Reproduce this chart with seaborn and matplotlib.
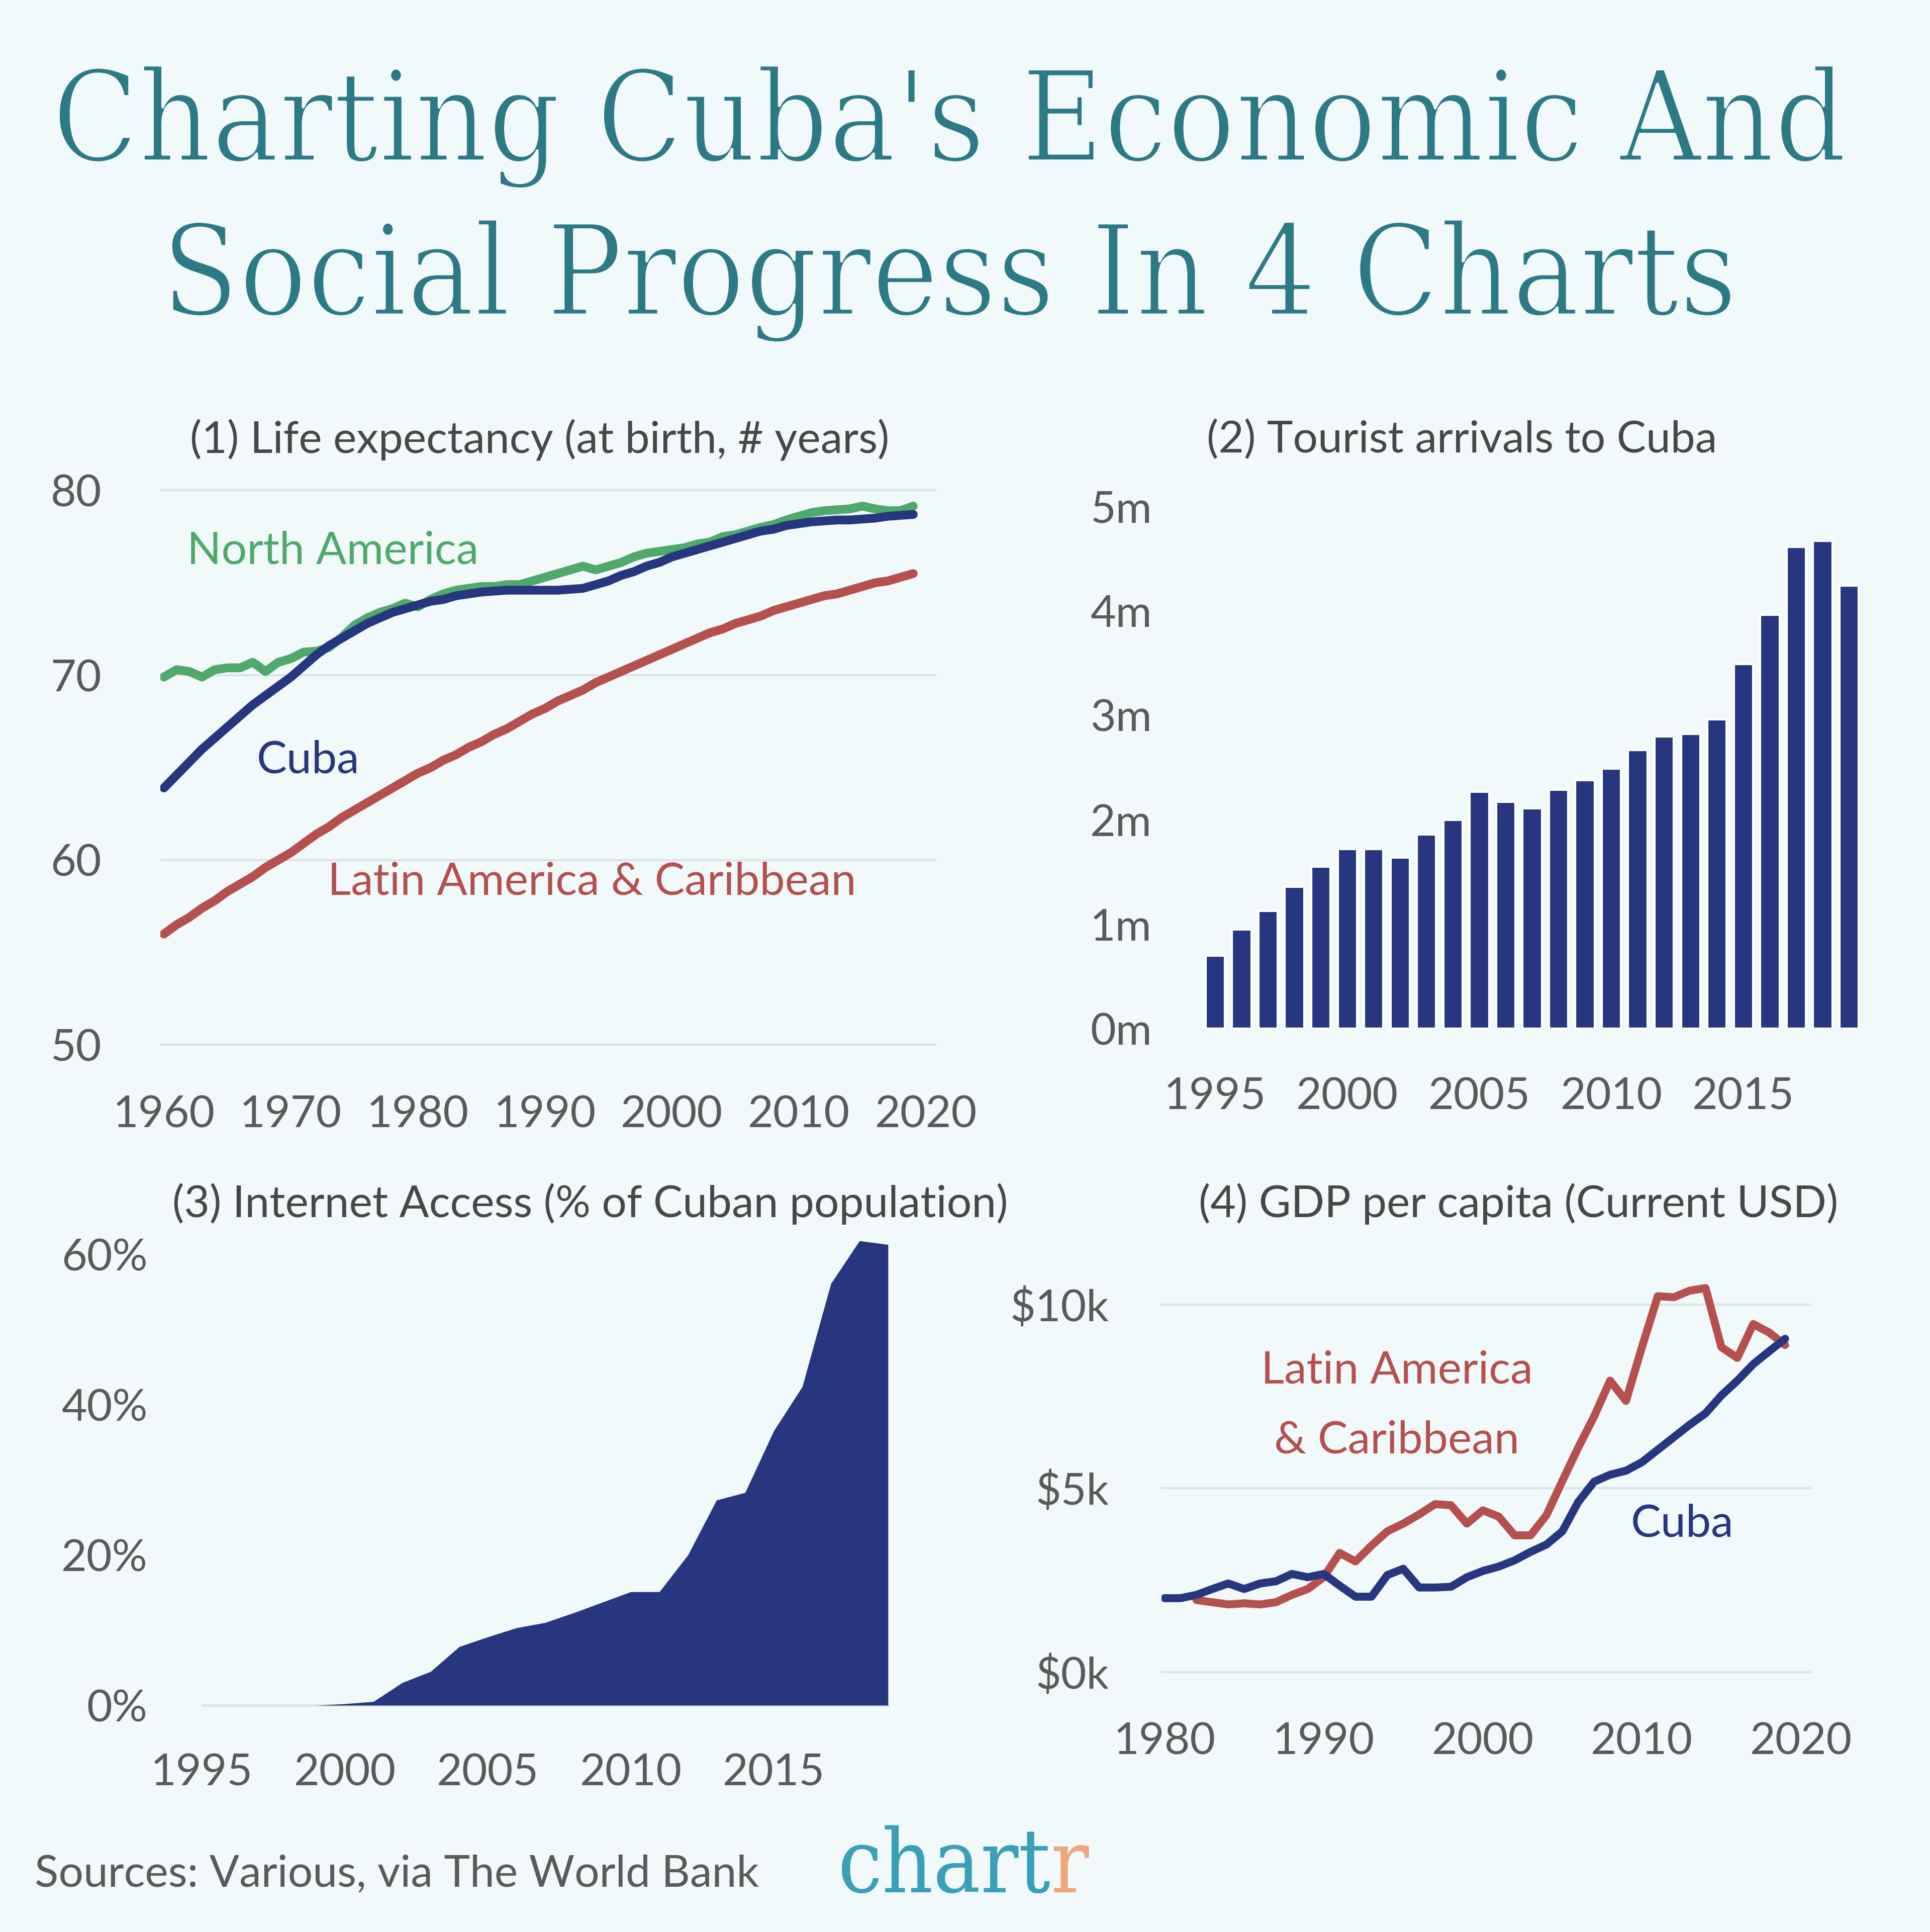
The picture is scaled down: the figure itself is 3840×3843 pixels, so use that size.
import matplotlib
matplotlib.use("Agg")
from matplotlib import pyplot as plt
from matplotlib import patheffects as pe
import pandas as pd
import seaborn as sns

# (1) life expectancy, 1960-2019
life_years = list(range(1960, 2020))
life_cuba = [63.9, 64.6, 65.3, 66.0, 66.6, 67.2, 67.8, 68.4, 68.9, 69.4,
             69.9, 70.5, 71.1, 71.6, 72.0, 72.4, 72.8, 73.1, 73.4, 73.6,
             73.8, 74.0, 74.1, 74.3, 74.4, 74.5, 74.55, 74.6, 74.6, 74.6,
             74.6, 74.6, 74.65, 74.7, 74.9, 75.1, 75.4, 75.6, 75.9, 76.1,
             76.4, 76.6, 76.8, 77.0, 77.2, 77.4, 77.6, 77.8, 77.9, 78.1,
             78.2, 78.3, 78.35, 78.4, 78.4, 78.45, 78.5, 78.6, 78.65, 78.7]
life_north_america = [69.9, 70.3, 70.2, 69.9, 70.3, 70.4, 70.4, 70.7, 70.2, 70.7,
                      70.9, 71.25, 71.3, 71.5, 72.05, 72.7, 73.1, 73.4, 73.6, 73.9,
                      73.7, 74.1, 74.4, 74.6, 74.7, 74.8, 74.8, 74.9, 74.9, 75.1,
                      75.3, 75.5, 75.7, 75.9, 75.7, 75.9, 76.1, 76.4, 76.6, 76.7,
                      76.8, 76.9, 77.1, 77.2, 77.5, 77.6, 77.8, 78.0, 78.15, 78.4,
                      78.6, 78.8, 78.9, 78.95, 79.0, 79.15, 79.0, 78.9, 78.9, 79.15]
life_latam = [56.0, 56.5, 56.9, 57.4, 57.8, 58.3, 58.7, 59.1, 59.6, 60.0,
              60.4, 60.9, 61.4, 61.8, 62.3, 62.7, 63.1, 63.5, 63.9, 64.3,
              64.7, 65.0, 65.4, 65.7, 66.1, 66.4, 66.8, 67.1, 67.5, 67.9,
              68.2, 68.6, 68.9, 69.2, 69.6, 69.9, 70.2, 70.5, 70.8, 71.1,
              71.4, 71.7, 72.0, 72.3, 72.5, 72.8, 73.0, 73.2, 73.5, 73.7,
              73.9, 74.1, 74.3, 74.4, 74.6, 74.8, 75.0, 75.1, 75.3, 75.5]

# (2) tourist arrivals, millions
tourist_years = list(range(1995, 2020))
tourist_arrivals = [0.70, 0.95, 1.13, 1.36, 1.55, 1.72, 1.72, 1.64, 1.86, 2.00,
                    2.27, 2.17, 2.11, 2.29, 2.38, 2.49, 2.67, 2.80, 2.82, 2.96,
                    3.49, 3.96, 4.61, 4.67, 4.24]

# (3) internet access, % of population
internet_years = list(range(1995, 2020))
internet_pct = [0, 0, 0, 0, 0, 0.2, 0.5, 3.0, 4.5, 7.8,
                9.1, 10.3, 11.0, 12.3, 13.7, 15.1, 15.1, 20.0, 27.3, 28.3,
                36.5, 42.4, 56.1, 61.8, 61.3]

# (4) GDP per capita, $k
gdp_cuba_years = list(range(1980, 2020))
gdp_cuba = [2.01, 2.01, 2.10, 2.26, 2.41, 2.26, 2.41, 2.47, 2.67, 2.58,
            2.67, 2.35, 2.05, 2.05, 2.64, 2.81, 2.30, 2.30, 2.32, 2.58,
            2.75, 2.87, 3.04, 3.27, 3.47, 3.83, 4.63, 5.18, 5.37, 5.48,
            5.71, 6.05, 6.39, 6.73, 7.04, 7.53, 7.93, 8.38, 8.73, 9.07]
gdp_latam_years = list(range(1982, 2020))
gdp_latam = [1.96, 1.90, 1.84, 1.87, 1.84, 1.90, 2.10, 2.26,
             2.58, 3.24, 3.01, 3.44, 3.83, 4.04, 4.29, 4.57, 4.54, 4.04,
             4.40, 4.23, 3.72, 3.72, 4.27, 5.20, 6.11, 6.96, 7.93, 7.38,
             8.84, 10.23, 10.20, 10.38, 10.45, 8.84, 8.55, 9.47, 9.24, 8.90]

BG = "#f1f9fa"
NAVY = "#26367f"
GREEN = "#4fa96a"
RED = "#b5504f"
TEAL = "#2c7a86"
GRID = "#dde4e6"
TICK = "#5a5a5a"
TITLE_GRAY = "#474747"
SLAB = ["DejaVu Serif"]

sns.set_style("white")
plt.rcParams["font.family"] = ["Lato", "DejaVu Sans"]

W, H = 1567, 1568  # layout measured on the reference


def box(x0, y0, x1, y1):
    return [x0 / W, 1 - y1 / H, (x1 - x0) / W, (y1 - y0) / H]


fig = plt.figure(figsize=(12.8, 12.81), dpi=300, facecolor=BG)


def fit_width(txt, target_px):
    # scale a text so that it spans target_px (reference pixels)
    fig.canvas.draw()
    w = txt.get_window_extent().width / fig.bbox.width * W
    txt.set_fontsize(txt.get_fontsize() * target_px / w)


# thin the slab strokes a little, the original title face is lighter
thin = [pe.Normal(), pe.Stroke(linewidth=1.3, foreground=BG)]
t1 = fig.text(771 / W, 1 - 103 / H, "Charting Cuba's Economic And", ha="center", va="center",
              fontsize=50, color=TEAL, family=SLAB, fontstretch="condensed",
              path_effects=thin)
t2 = fig.text(771 / W, 1 - 228 / H, "Social Progress In 4 Charts", ha="center", va="center",
              fontsize=50, color=TEAL, family=SLAB, fontstretch="condensed",
              path_effects=thin)
fit_width(t1, 1458)
t2.set_fontsize(t1.get_fontsize())


def style(ax, xpad, ypad):
    ax.set_facecolor(BG)
    sns.despine(ax=ax, left=True, bottom=True)
    ax.tick_params(length=0, labelsize=21, labelcolor=TICK)
    ax.tick_params(axis="x", pad=xpad)
    ax.tick_params(axis="y", pad=ypad)
    ax.set_xlabel("")
    ax.set_ylabel("")


# ---- (1) life expectancy
ax1 = fig.add_axes(box(130, 398, 760, 848))
sns.lineplot(x=life_years, y=life_north_america, color=GREEN, lw=4.2, ax=ax1)
sns.lineplot(x=life_years, y=life_latam, color=RED, lw=4.2, ax=ax1)
sns.lineplot(x=life_years, y=life_cuba, color=NAVY, lw=4.2, ax=ax1)
ax1.set_xlim(1959.7, 2020.8)
ax1.set_ylim(50, 80)
ax1.set_yticks([50, 60, 70, 80])
ax1.set_xticks(range(1960, 2021, 10))
ax1.yaxis.grid(True, color=GRID, lw=1.0, zorder=0)
ax1.set_axisbelow(True)
for gl in ax1.get_ygridlines():
    gl.set_clip_on(False)
style(ax1, 24, 28)
ax1.text(1961.8, 76.7, "North America", color=GREEN, fontsize=21.5, va="center")
ax1.text(1967.3, 65.4, "Cuba", color=NAVY, fontsize=21.5, va="center")
ax1.text(1972.9, 58.8, "Latin America & Caribbean", color=RED, fontsize=21.5, va="center")
fig.text(438 / W, 1 - 357 / H, "(1) Life expectancy (at birth, # years)", ha="center",
         va="center", fontsize=21, color=TITLE_GRAY)

# ---- (2) tourist arrivals
ax2 = fig.add_axes(box(976, 411, 1512, 835))
sns.barplot(x=tourist_years, y=tourist_arrivals, native_scale=True, color=NAVY,
            saturation=1, width=0.73, ax=ax2)
ax2.set_xlim(1994.5, 2019.5)
ax2.set_ylim(0, 5)
ax2.set_yticks(range(0, 6))
ax2.set_yticklabels([f"{v}m" for v in range(0, 6)])
ax2.set_xticks(range(1995, 2016, 5))
style(ax2, 23, 24)
fig.text(1187 / W, 1 - 357 / H, "(2) Tourist arrivals to Cuba", ha="center",
         va="center", fontsize=21, color=TITLE_GRAY)

# ---- (3) internet access
ax3 = fig.add_axes(box(164, 1002.75, 721, 1384))
ax3.fill_between(internet_years, internet_pct, 0, color=NAVY, lw=0, zorder=2)
ax3.axhline(0, color=GRID, lw=1.2, zorder=1, clip_on=False)
ax3.set_xlim(1995, 2019)
ax3.set_ylim(0, 62.5)
ax3.set_yticks([0, 20, 40, 60])
ax3.set_yticklabels(["0%", "20%", "40%", "60%"])
ax3.set_xticks(range(1995, 2016, 5))
style(ax3, 23, 26)
fig.text(479 / W, 1 - 977 / H, "(3) Internet Access (% of Cuban population)", ha="center",
         va="center", fontsize=21, color=TITLE_GRAY)

# ---- (4) GDP per capita
ax4 = fig.add_axes(box(943, 1029, 1470, 1357))
sns.lineplot(x=gdp_latam_years, y=gdp_latam, color=RED, lw=3.8, ax=ax4)
sns.lineplot(x=gdp_cuba_years, y=gdp_cuba, color=NAVY, lw=3.8, ax=ax4)
ax4.set_xlim(1979.8, 2020.6)
ax4.set_ylim(0, 11)
ax4.set_yticks([0, 5, 10])
ax4.set_yticklabels([r"\$0k", r"\$5k", r"\$10k"])
ax4.set_xticks(range(1980, 2021, 10))
ax4.yaxis.grid(True, color=GRID, lw=1.0, zorder=0)
ax4.set_axisbelow(True)
for gl in ax4.get_ygridlines():
    gl.set_clip_on(False)
style(ax4, 24, 25)
ax4.text(1994.6, 7.25, "Latin America\n& Caribbean", color=RED, fontsize=21.5,
         ha="center", va="center", linespacing=1.85)
ax4.text(2009.3, 4.03, "Cuba", color=NAVY, fontsize=21.5, va="center")
fig.text(1233 / W, 1 - 977 / H, "(4) GDP per capita (Current USD)", ha="center",
         va="center", fontsize=21, color=TITLE_GRAY)

# ---- footer
fig.text(28 / W, 1 - 1521 / H, "Sources: Various, via The World Bank", ha="left",
         va="center", fontsize=21, color=TICK)
logo = fig.text(680 / W, 1 - 1516 / H, "chartr", ha="left", va="center",
                fontsize=40, color="#3a9fb8", family=SLAB, fontstretch="condensed")
fit_width(logo, 204)
logo.set_text("chart")
fig.canvas.draw()
bb = logo.get_window_extent()
fig.text(bb.x1 / fig.bbox.width, 1 - 1516 / H, "r", ha="left", va="center",
         fontsize=logo.get_fontsize(), color="#efa67c", family=SLAB, fontstretch="condensed")

fig.savefig("out.png", dpi=300, facecolor=BG)
